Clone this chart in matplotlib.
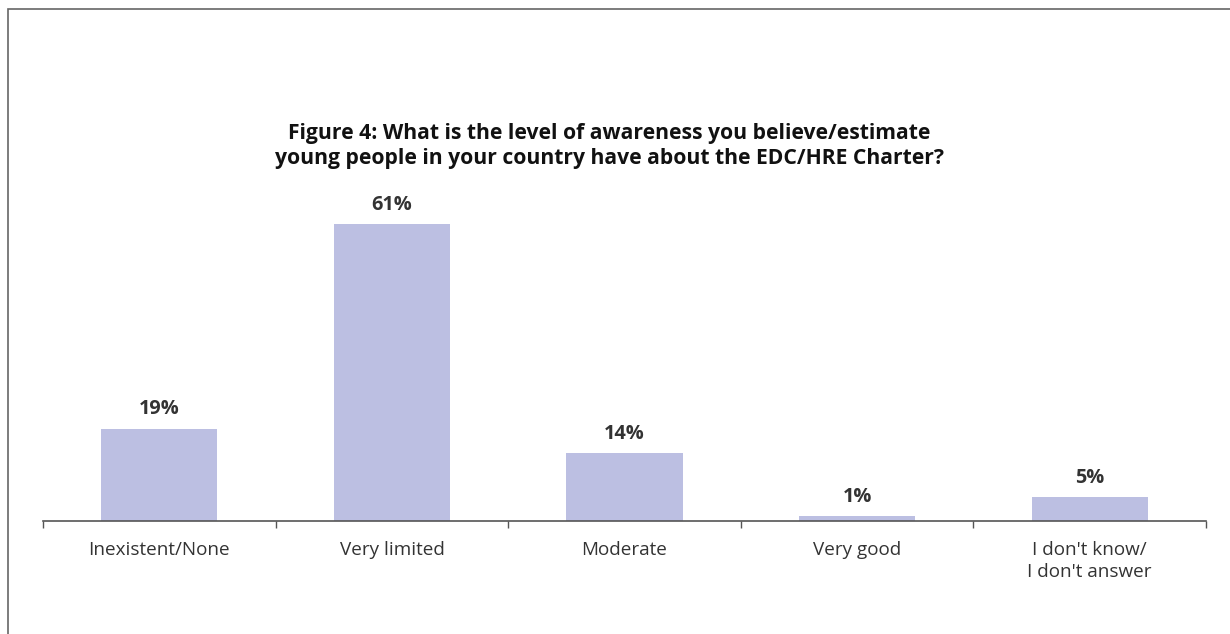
import matplotlib.pyplot as plt
from matplotlib.patches import Rectangle

categories = ['Inexistent/None', 'Very limited', 'Moderate', 'Very good', "I don't know/\nI don't answer"]
values = [19, 61, 14, 1, 5]
value_labels = ['19%', '61%', '14%', '1%', '5%']

plt.rcParams['font.family'] = ['Open Sans', 'DejaVu Sans']

fig = plt.figure(figsize=(12.3, 6.34), dpi=100)
ax = fig.add_axes([0.035, 0.178, 0.9455, 0.538])

x = range(len(categories))
ax.bar(x, values, width=0.5, color='#bcbfe2', zorder=2)
for i, v in enumerate(values):
    ax.text(i, v + 1.9, value_labels[i], ha='center', va='bottom',
            fontsize=14.3, fontweight='bold', color='#333333')

ax.set_xlim(-0.5, len(categories) - 0.5)
ax.set_ylim(0, 70)
ax.set_yticks([])
ax.set_xticks([i - 0.5 for i in range(len(categories) + 1)], minor=False)
ax.set_xticklabels([''] * (len(categories) + 1))
ax.set_xticks(list(x), minor=True)
ax.set_xticklabels(categories, minor=True, fontsize=13.6, color='#333333', linespacing=1.3)
ax.tick_params(axis='x', which='major', length=5, width=1, color='#555555', direction='out')
ax.tick_params(axis='x', which='minor', length=0, pad=14)
for s in ['top', 'right', 'left']:
    ax.spines[s].set_visible(False)
ax.spines['bottom'].set_color('#555555')
ax.spines['bottom'].set_linewidth(1.2)

fig.text(0.4955, 0.77, 'Figure 4: What is the level of awareness you believe/estimate\n'
         'young people in your country have about the EDC/HRE Charter?',
         ha='center', va='center', fontsize=15.2, fontweight='bold',
         color='#111111', linespacing=1.25)

# frame around the figure (right/bottom cut off)
fig.patches.append(Rectangle((8 / 1230, -0.1), 1.2, 0.1 + 1 - 9.5 / 634,
                             transform=fig.transFigure, fill=False,
                             edgecolor='#666666', linewidth=1.2))

fig.savefig('out.png', dpi=100)
